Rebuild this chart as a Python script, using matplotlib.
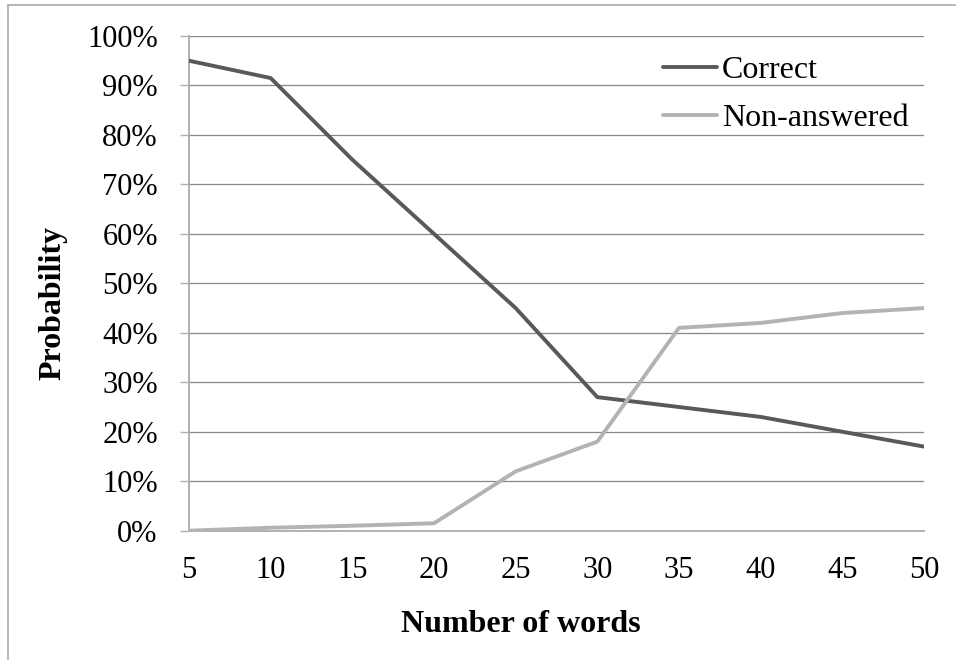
import matplotlib
matplotlib.use("Agg")
import matplotlib.pyplot as plt
from matplotlib.lines import Line2D
from matplotlib.ticker import FuncFormatter

# Probability of each outcome against the number of words
words = [5, 10, 15, 20, 25, 30, 35, 40, 45, 50]
correct = [95, 91.5, 75, 60, 45, 27, 25, 23, 20, 17]
non_answered = [0, 0.6, 1.0, 1.5, 12, 18, 41, 42, 44, 45]
y_ticks = list(range(0, 101, 10))

W, H = 956, 660
plt.rcParams['font.family'] = ['Liberation Serif', 'DejaVu Serif']
fs_tick = 22
fs = 23

fig = plt.figure(figsize=(W / 100, H / 100), dpi=100)
ax = fig.add_axes([189 / W, (H - 530.7) / H, (924 - 189) / W, (530.7 - 36) / H])

ax.plot(words, correct, color='#595959', lw=2.8, label='Correct',
        solid_joinstyle='round', solid_capstyle='round', zorder=3)
ax.plot(words, non_answered, color='#b3b3b3', lw=2.8, label='Non-answered',
        solid_joinstyle='round', solid_capstyle='round', zorder=3)

ax.set_xlim(words[0], words[-1])
ax.set_ylim(0, 100)
ax.set_xticks(words)
ax.set_yticks(y_ticks)
ax.yaxis.set_major_formatter(FuncFormatter(lambda v, p: f"{int(v)}%"))

# Horizontal gridlines
for v in y_ticks[1:]:
    ax.axhline(v, color='#878787', lw=0.9, zorder=1)

for s in ['top', 'right']:
    ax.spines[s].set_visible(False)
for s in ['left', 'bottom']:
    ax.spines[s].set_color('#b0b0b0')
    ax.spines[s].set_linewidth(1.4)

ax.tick_params(axis='y', length=6.5, width=1.0, color='#b0b0b0',
               labelsize=fs_tick, pad=16)
ax.tick_params(axis='x', length=0, labelsize=fs_tick, pad=18)
# Single downward tick where the axes cross
ax.set_xticks([words[0]], minor=True)
ax.tick_params(axis='x', which='minor', length=6.5, width=1.4, color='#b0b0b0')

# Axis titles, placed relative to the whole chart area
fig.text(53 / W, 1 - 302.5 / H, 'Probability', rotation=90, ha='center',
         va='center', fontsize=fs, fontweight='bold')
fig.text(521 / W, 1 - 631.5 / H, 'Number of words', ha='center',
         va='baseline', fontsize=fs, fontweight='bold')

leg = ax.legend(loc='upper left', bbox_to_anchor=(663 / W, 1 - 56 / H),
                bbox_transform=fig.transFigure, frameon=False, fontsize=fs,
                handlelength=1.69, handletextpad=0.16, labelspacing=0.58,
                borderpad=0, borderaxespad=0)

# Outer frame lines (top and left)
fig.add_artist(Line2D([8 / W, 1], [1 - 5 / H, 1 - 5 / H], color='#b0b0b0',
                      lw=1.3, transform=fig.transFigure))
fig.add_artist(Line2D([8 / W, 8 / W], [0, 1 - 5 / H], color='#b0b0b0',
                      lw=1.3, transform=fig.transFigure))

fig.savefig('out.png', dpi=100)
